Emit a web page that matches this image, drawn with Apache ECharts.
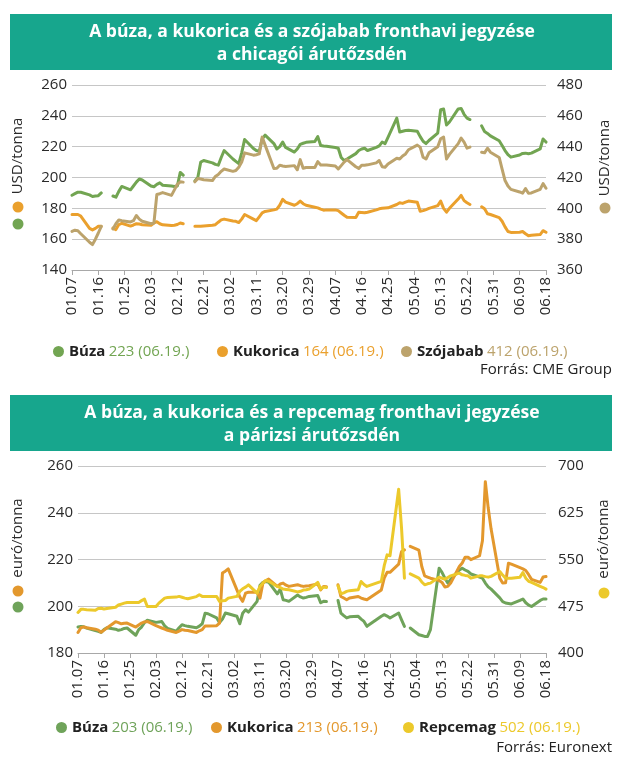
<!DOCTYPE html>
<html><head><meta charset="utf-8">
<script src="https://cdn.jsdelivr.net/npm/echarts@6/dist/echarts.min.js"></script>
<style>html,body{margin:0;padding:0;background:#fff;}#c{width:626px;height:774px;}</style>
</head><body><div id="c"></div>
<script>
// ---- x axis tick labels (every 9 calendar days) ----
const xTickLabels = ['01.07','01.16','01.25','02.03','02.12','02.21','03.02','03.11','03.20','03.29','04.07','04.16','04.25','05.04','05.13','05.22','05.31','06.09','06.18'];
const leftTicksCME = [140, 260, 20];
const rightTicksCME = [360, 480, 20];
const leftTicksEU = [180, 260, 20];
const rightTicksEU = [400, 700, 75];

// ---- Chicago (CME) trading days ----
const cmeDates = [
'01.07','01.08','01.09','01.10','01.13','01.14','01.15','01.16','01.17','01.20','01.21','01.22','01.23','01.24','01.27','01.28','01.29','01.30','01.31',
'02.03','02.04','02.05','02.06','02.07','02.10','02.11','02.12','02.13','02.14','02.17','02.18','02.19','02.20','02.21','02.24','02.25','02.26','02.27','02.28',
'03.03','03.04','03.05','03.06','03.07','03.10','03.11','03.12','03.13','03.14','03.17','03.18','03.19','03.20','03.21','03.24','03.25','03.26','03.27','03.28','03.31',
'04.01','04.02','04.03','04.04','04.07','04.08','04.09','04.10','04.11','04.14','04.15','04.16','04.17','04.18','04.21','04.22','04.23','04.24','04.25','04.28','04.29','04.30',
'05.01','05.02','05.05','05.06','05.07','05.08','05.09','05.12','05.13','05.14','05.15','05.16','05.19','05.20','05.21','05.22','05.23','05.26','05.27','05.28','05.29','05.30',
'06.02','06.03','06.04','06.05','06.06','06.09','06.10','06.11','06.12','06.13','06.16','06.17','06.18'];
const cmeBuza = [
188.5,189.5,190.5,190.4,188.7,187.7,188,188.2,190,null,188,187.2,191,194.2,192,194.5,197,199,198.4,
194.5,194,195.5,196.5,195,194.5,194.2,194.5,203.3,201.5,null,197.8,200,210,211,209.5,208.5,208,213,217.5,
212,210.5,209,216,224.7,218.8,217.5,217,225,227.5,222,218.5,220,223,219.5,216.5,218.5,221.5,222.2,222.8,223.4,
226.5,220.8,220.5,220.3,219.5,219,213,211,212,215.5,217.5,218.5,219,217.5,219.5,220.5,223,222,226,238.5,229.5,230,
230.5,230.6,230,226.5,223.5,222,224,228.8,244,244.4,234,236,244.5,244.8,241,238.5,237.6,null,233.5,229.8,228.6,227,
223.8,220.8,217.5,214.8,213.2,214.6,215.6,215.8,215.4,215.8,218.5,225,223];
const cmeKukorica = [
176,176,176,175,167,166,167,168.4,168.4,null,167.2,166.2,169.5,170.3,168.5,169.2,170,169.8,169.4,
169,170.5,171.3,170,169.3,168.8,169,169.5,170.5,170,null,168.3,168.3,168.4,168.6,169,169.4,171,172.5,173,
171.8,171.6,170.8,173,176,173,172,174.5,177.1,178,179,179.5,182,185.8,184,182,183,184.7,183,182,180.7,
180.3,179.5,178.8,179,179,178.5,177,175.5,174.2,174,177.5,177.3,177.1,177.5,179,179.7,180,180.2,180.3,182.5,183.6,183.2,
184,184.7,184,178.1,178.5,179.2,180,181.8,184.7,180,177.5,180,186,188.4,185,183.6,182.5,null,181,179.7,176.5,176,
174,171.6,168,165,164.4,164.5,165,163.5,162.2,162.5,163,165.5,164.5];
const cmeSzojabab = [
385,385.8,385.5,383.5,378,376.5,380,384,388.3,null,386.6,390,392.5,392,391.2,392,395.3,393,391.6,
390,390.5,409,409.5,410.2,408.4,412,415.6,417.2,417,null,417.2,419.3,419,418.5,418,420.7,422,424,425.5,
424,424.5,426.6,430,436,434.5,434.8,435.3,446.2,441,425.8,426,428,427.5,427.2,427.7,425,431.6,426,426.5,426.5,
430.3,428.1,428.1,428.1,427.5,425.5,427.7,430,431.6,427,425.9,428,428,428.2,429.5,431,427,426.6,428.8,432.5,432,434,
435.3,438,441,439.7,433.1,432,436,440,445.1,446.2,432,435,442,445.6,443,439,439.7,null,436.4,436,439,436.4,
433,425.5,418,414.5,412.3,410.6,409.8,412.8,409.8,410,412.3,416,413];
const cmeLatest = ['223','164','412'];

// ---- Paris (Euronext) trading days ----
const euDates = [
'01.07','01.08','01.09','01.10','01.13','01.14','01.15','01.16','01.17','01.20','01.21','01.22','01.23','01.24','01.27','01.28','01.29','01.30','01.31',
'02.03','02.04','02.05','02.06','02.07','02.10','02.11','02.12','02.13','02.14','02.17','02.18','02.19','02.20','02.21','02.24','02.25','02.26','02.27','02.28',
'03.03','03.04','03.05','03.06','03.07','03.10','03.11','03.12','03.13','03.14','03.17','03.18','03.19','03.20','03.21','03.24','03.25','03.26','03.27','03.28','03.31',
'04.01','04.02','04.03','04.04','04.07','04.08','04.09','04.10','04.11','04.14','04.15','04.16','04.17','04.22','04.23','04.24','04.25','04.28','04.29','04.30',
'05.01','05.02','05.05','05.06','05.07','05.08','05.09','05.12','05.13','05.14','05.15','05.16','05.19','05.20','05.21','05.22','05.23','05.26','05.27','05.28','05.29','05.30',
'06.02','06.03','06.04','06.05','06.06','06.09','06.10','06.11','06.12','06.13','06.16','06.17','06.18'];
const euBuza = [
191.1,191.3,191.2,190.7,189.6,189.3,188.8,190,190.8,190.2,189.7,190,190.5,190.7,187.6,190,191.1,193,194,
193.1,193.3,193.5,191.6,190.5,189.3,190.8,192.1,191.7,191.4,190.8,191.5,192.5,197,196.8,195,193,194.5,197.1,196.8,
195.7,192.5,197,198.5,197.5,202.1,209,210.2,210.6,210.3,205.3,207.3,202.8,202.5,202.1,204.8,204,203.5,203.8,204.2,204.6,
201.5,202.1,202,null,202.5,197.1,196,195,195.5,195.7,194.5,193.5,191.4,195.7,196.4,195.8,195,197.1,194.2,191.4,
null,190.7,187.8,187.5,187.1,187.1,190,216.3,214.5,212,209.9,211.5,215.5,216.3,215.5,214.9,213.8,212.5,212,209.9,208.3,207.3,
203.6,202,201.4,201.2,201,202.5,203.1,201.5,200.5,199.9,202.5,203.1,203.1];
const euKukorica = [
188.8,190.8,191.2,190.8,190.2,189.8,188.9,189.8,190.7,193.4,193,192.5,192.7,192.8,191.1,192,192.8,193.3,193.5,
191.7,191.2,190.7,190.2,189.7,188.8,189.4,190,189.7,189.6,188.8,189.5,190,191.6,191.6,191.7,192.8,214.2,215,216,
207,204,202.1,205.6,206,206,203.5,209.9,211,211.6,208.5,209.5,209.9,209,208.5,209.2,208.8,208.5,208.7,208.8,209.5,
207,208.5,208.3,null,209.2,204.2,203.5,202.8,203.5,204.2,203.5,203.1,202.8,207,212,214.5,214.5,218,223.4,224.1,
null,225.6,224,217,213,212.5,212,211,210.2,208.2,208.5,209.9,217,218.5,221,221,219.9,221.6,228,253.3,242,233,
212,209.9,210,218.4,218,216.5,216,215.3,213.5,211.5,210.2,212.5,212.7];
const euRepcemag = [
465,470,470,469.4,468.5,471.5,471.8,470.5,471.5,473.5,477,478.5,480,481,481.1,481.1,484,486.5,474.7,
474.5,480,484,488,489,489.7,490.8,489.5,488,487,490.5,493.4,490.8,490.8,490.8,490.8,482.7,484,484.3,488,
490.8,498.8,503,505.7,509.4,496.1,506.8,512,516.4,515,506.8,505,502.5,502,501.4,498,499,501,501.4,502.5,513.2,
502.5,505.7,505,null,507.8,495,496.5,498.8,500,501.4,514.8,510,506.8,515,540,557.5,556,662.6,600,520,
null,527,520.1,514,509.4,511,512.1,521.7,520,518.5,521,523.8,528.1,525.4,524.5,523.8,520.1,523.8,523.8,522.5,521.7,523,
530.8,525,520.1,520.1,520.1,521.7,529.2,520.1,515,513.2,506.8,505,502.5];
const euLatest = ['203','213','502'];
const latestDate = '(06.19.)';

// ---- colours ----
const C = {teal:'#17a68d', buza:'#72a552', kuk:'#eaa02d', szoja:'#bca36c', buza2:'#6fa35a', kuk2:'#e3982d', repce:'#ecc92b', txt:'#2a2a2a', grid:'#c6c6c6'};
const FONT = '"Open Sans", "Noto Sans", sans-serif';

function dayIndex(s){ const p=s.split('.').map(Number); return Math.round((Date.UTC(2025,p[0]-1,p[1])-Date.UTC(2025,0,7))/86400000); }
function pairs(dates, vals){ return dates.map((s,i)=>[dayIndex(s), vals[i]===null ? '-' : vals[i]]); }

function xAxisCfg(g){
  return {type:'value', gridIndex:g, min:0, max:162, interval:9,
    axisLine:{show:true, onZero:false, lineStyle:{color:'#a8a8a8', width:1}},
    axisTick:{show:true, length:5, lineStyle:{color:'#a8a8a8'}},
    splitLine:{show:false},
    axisLabel:{rotate:90, margin:7, fontSize:15, color:C.txt, fontFamily:FONT, hideOverlap:false,
      formatter:v=>xTickLabels[Math.round(v/9)]||''}};
}
function yAxisCfg(g, t, pos, margin, split){
  return {type:'value', gridIndex:g, min:t[0], max:t[1], interval:t[2], position:pos,
    axisLine:{show:false}, axisTick:{show:false},
    splitLine:{show:split, lineStyle:{color:C.grid, width:1}},
    axisLabel:{margin:margin, fontSize:15, color:C.txt, fontFamily:FONT}};
}
function line(name, x, y, data, color){
  return {name, type:'line', xAxisIndex:x, yAxisIndex:y, data, showSymbol:false, symbol:'none',
    connectNulls:false, lineStyle:{width:3, color, join:'round', cap:'round'}, itemStyle:{color}, animation:false};
}
function legendItem(name, left, top, label, value, color){
  return {data:[name], left, top, icon:'circle', itemWidth:11, itemHeight:11, selectedMode:false,
    formatter:()=>'{n|'+label+'} {v|'+value+' '+latestDate+'}',
    textStyle:{rich:{n:{fontFamily:FONT, fontWeight:'bold', fontSize:15, color:'#222'},
                     v:{fontFamily:FONT, fontSize:15, color:color}}}};
}
function titleText(txt, y){
  return {type:'text', x:312, y:y, scaleX:0.975, style:{text:txt, font:'bold 18px '+FONT, fill:'#fff', align:'center', verticalAlign:'middle'}};
}
function vText(txt, x, y){
  return {type:'text', x:x, y:y, rotation:Math.PI/2, style:{text:txt, font:'15px '+FONT, fill:C.txt, align:'center', verticalAlign:'middle'}};
}
function dot(x, y, color){ return {type:'circle', shape:{cx:x, cy:y, r:5.5}, style:{fill:color}}; }

const chart = echarts.init(document.getElementById('c'), null, {renderer:'canvas'});
chart.setOption({
  animation:false,
  backgroundColor:'#ffffff',
  grid:[{left:72, top:85, width:474, height:185},
        {left:78, top:466, width:468, height:187}],
  xAxis:[xAxisCfg(0), xAxisCfg(1)],
  yAxis:[yAxisCfg(0, leftTicksCME, 'left', 5, true), yAxisCfg(0, rightTicksCME, 'right', 11, false),
         yAxisCfg(1, leftTicksEU, 'left', 5, true), yAxisCfg(1, rightTicksEU, 'right', 12, false)],
  legend:[
    legendItem('Búza', 48, 339, 'Búza', cmeLatest[0], C.buza),
    legendItem('Kukorica', 212, 339, 'Kukorica', cmeLatest[1], C.kuk),
    legendItem('Szójabab', 396, 339, 'Szójabab', cmeLatest[2], C.szoja),
    legendItem('Búza (Párizs)', 51, 715, 'Búza', euLatest[0], C.buza2),
    legendItem('Kukorica (Párizs)', 206, 715, 'Kukorica', euLatest[1], C.kuk2),
    legendItem('Repcemag', 398, 715, 'Repcemag', euLatest[2], C.repce)
  ],
  series:[
    line('Búza', 0, 0, pairs(cmeDates, cmeBuza), C.buza),
    line('Kukorica', 0, 0, pairs(cmeDates, cmeKukorica), C.kuk),
    line('Szójabab', 0, 1, pairs(cmeDates, cmeSzojabab), C.szoja),
    line('Búza (Párizs)', 1, 2, pairs(euDates, euBuza), C.buza2),
    line('Kukorica (Párizs)', 1, 2, pairs(euDates, euKukorica), C.kuk2),
    line('Repcemag', 1, 3, pairs(euDates, euRepcemag), C.repce)
  ],
  graphic:[
    {type:'rect', shape:{x:10, y:14, width:602, height:56}, style:{fill:C.teal}},
    titleText('A búza, a kukorica és a szójabab fronthavi jegyzése', 32),
    titleText('a chicagói árutőzsdén', 55),
    vText('USD/tonna', 18, 156), dot(18, 207, C.kuk), dot(18, 224, C.buza),
    vText('USD/tonna', 605, 158), dot(605, 208, C.szoja),
    {type:'text', x:612, y:370, style:{text:'Forrás: CME Group', font:'15px '+FONT, fill:'#222', align:'right', verticalAlign:'middle'}},
    {type:'rect', shape:{x:10, y:395, width:602, height:56}, style:{fill:C.teal}},
    titleText('A búza, a kukorica és a repcemag fronthavi jegyzése', 413),
    titleText('a párizsi árutőzsdén', 436),
    vText('euró/tonna', 18, 538), dot(18, 591, C.kuk2), dot(18, 607, C.buza2),
    vText('euró/tonna', 604, 539), dot(604, 593, C.repce),
    {type:'text', x:612, y:748, style:{text:'Forrás: Euronext', font:'15px '+FONT, fill:'#222', align:'right', verticalAlign:'middle'}}
  ]
});
</script></body></html>
